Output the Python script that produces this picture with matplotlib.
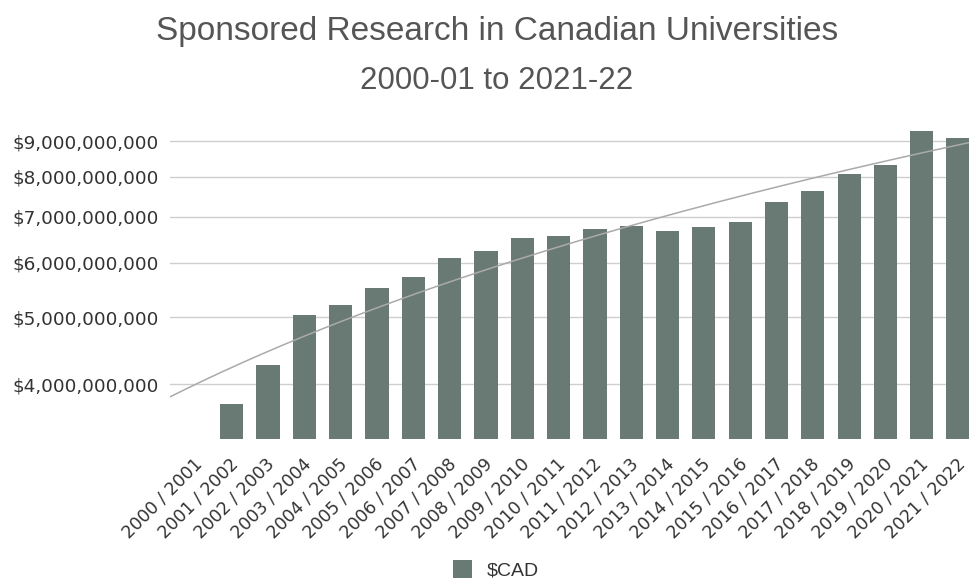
import numpy as np
import matplotlib
matplotlib.use("Agg")
import matplotlib.pyplot as plt
from matplotlib.ticker import FixedLocator, FuncFormatter, NullLocator
from matplotlib.transforms import ScaledTranslation

plt.rcParams["font.family"] = ["DejaVu Sans"]

# Sponsored research income, Canadian universities (CAD)
years = [
    "2000 / 2001", "2001 / 2002", "2002 / 2003", "2003 / 2004", "2004 / 2005",
    "2005 / 2006", "2006 / 2007", "2007 / 2008", "2008 / 2009", "2009 / 2010",
    "2010 / 2011", "2011 / 2012", "2012 / 2013", "2013 / 2014", "2014 / 2015",
    "2015 / 2016", "2016 / 2017", "2017 / 2018", "2018 / 2019", "2019 / 2020",
    "2020 / 2021", "2021 / 2022",
]
cad = [
    3.27e9, 3.75e9, 4.26e9, 5.04e9, 5.21e9,
    5.52e9, 5.72e9, 6.09e9, 6.23e9, 6.52e9,
    6.56e9, 6.72e9, 6.78e9, 6.67e9, 6.75e9,
    6.87e9, 7.36e9, 7.63e9, 8.08e9, 8.31e9,
    9.32e9, 9.09e9,
]
y_ticks = [4e9, 5e9, 6e9, 7e9, 8e9, 9e9]
series_name = "$CAD"
title = "Sponsored Research in Canadian Universities"
subtitle = "2000-01 to 2021-22"

BAR = "#687a73"
TXT = "#333333"
TITLE_C = "#555555"

fig = plt.figure(figsize=(9.69, 5.81), dpi=100)
fig.patch.set_facecolor("white")
ax = fig.add_axes([0.1754, 0.2444, 0.8246, 0.5491])

x = np.arange(len(years))
ax.set_yscale("log", nonpositive="clip")
bars = ax.bar(x, cad, width=0.64, color=BAR, zorder=2, label=series_name)
ax.set_ylim(3.333e9, 9.66e9)
ax.set_xlim(-0.70, 21.30)

# linear trend fitted over all years
coef = np.polyfit(x, np.array(cad), 1)
tx = np.linspace(-0.70, 21.30, 200)
ax.plot(tx, np.polyval(coef, tx), color="#aaaaaa", lw=1.1, zorder=3)

ax.yaxis.set_major_locator(FixedLocator(y_ticks))
ax.yaxis.set_minor_locator(NullLocator())
ax.yaxis.set_major_formatter(FuncFormatter(lambda v, p: f"${v:,.0f}"))
ax.grid(axis="y", color="#cfcfcf", lw=1, zorder=0)
ax.tick_params(axis="y", length=0, pad=8, labelsize=13.3, labelcolor=TXT)
for s in ax.spines.values():
    s.set_visible(False)

ax.set_xticks(x)
ax.set_xticklabels(years, rotation=45, ha="right", va="center",
                   rotation_mode="anchor", fontsize=12.5, color=TXT)
ax.tick_params(axis="x", length=0, pad=16)
shift = ScaledTranslation(4 / 100, 0, fig.dpi_scale_trans)
for lab in ax.get_xticklabels():
    lab.set_transform(lab.get_transform() + shift)

fig.text(0.513, 0.946, title, ha="center", va="center", fontsize=24,
         color=TITLE_C, family="Liberation Sans")
fig.text(0.512, 0.860, subtitle, ha="center", va="center", fontsize=22.5,
         color=TITLE_C, family="Liberation Sans")

fig.legend(handles=[bars], labels=[series_name], loc="center",
           bbox_to_anchor=(0.512, 0.019), frameon=False,
           handlelength=1.0, handleheight=1.0, handletextpad=0.75,
           labelcolor=TXT, prop={"family": "Liberation Sans", "size": 14})

fig.savefig("out.png", dpi=100, facecolor="white")
